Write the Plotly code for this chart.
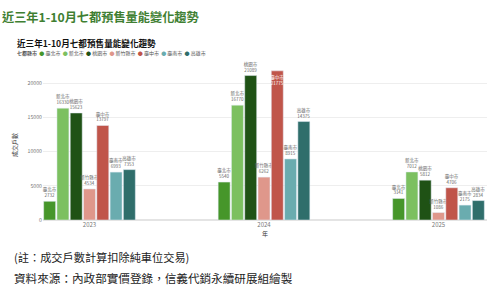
import plotly.graph_objects as go

years = ["2023", "2024", "2025"]
cities = ["臺北市", "新北市", "桃園市", "新竹縣市", "臺中市", "臺南市", "高雄市"]
taipei = [2732, 5540, 3141]
new_taipei = [16330, 16770, 7012]
taoyuan = [15623, 21089, 5812]
hsinchu = [4534, 6262, 1086]
taichung = [13797, 21775, 4706]
tainan = [6993, 8915, 2175]
kaohsiung = [7353, 14375, 2834]
series = [taipei, new_taipei, taoyuan, hsinchu, taichung, tainan, kaohsiung]
colors = ["#46962a", "#7cc060", "#1f5215", "#df978b", "#c0554a", "#6aacaf", "#2f6e6b"]
y_ticks = [0, 5000, 10000, 15000, 20000]

FONT = "Noto Sans CJK TC"
fig = go.Figure()
ymax = 21900
for name, vals, col in zip(cities, series, colors):
    pos = ["inside" if v > 21500 else "outside" for v in vals]
    tcol = ["white" if v > 21500 else "#666666" for v in vals]
    fig.add_trace(go.Bar(
        x=years, y=vals, name=name, marker_color=col,
        text=[f"{name}<br>{v}" for v in vals],
        textposition=pos, insidetextanchor="end", textangle=0, constraintext="none",
        textfont=dict(size=4.5, color=tcol, family=FONT),
        cliponaxis=False, showlegend=False,
    ))

legend_html = "<b>七都縣市</b>  " + "  ".join(
    f"<span style='color:{c}'>●</span> {n}" for n, c in zip(cities, colors))

fig.update_layout(
    width=500, height=295,
    margin=dict(l=43, r=13, t=70, b=75),
    paper_bgcolor="white", plot_bgcolor="white",
    font=dict(family=FONT, color="#555555"),
    barmode="group", bargap=0.467, bargroupgap=0.1,
    uniformtext=dict(minsize=1, mode=False),
    xaxis=dict(type="category", range=[-0.2665, 2.278], showgrid=False,
               tickfont=dict(size=6, color="#777777"), ticks="",
               title=dict(text="年", font=dict(size=6, color="#333333"), standoff=2)),
    yaxis=dict(range=[0, ymax], tickvals=y_ticks, ticktext=[str(t) for t in y_ticks],
               showgrid=True, gridcolor="#eeeeee",
               zeroline=True, zerolinecolor="#e4e4e4",
               tickfont=dict(size=5.2, color="#777777"), ticksuffix=" ",
               title=dict(text="成交戶數", font=dict(size=6, color="#333333"), standoff=9)),
    annotations=[
        dict(text="<b>近三年1-10月七都預售量能變化趨勢</b>", xref="paper", yref="paper",
             x=-43/444, y=1 + (70-17)/150, xanchor="left", yanchor="middle", showarrow=False,
             font=dict(size=12.2, color="#3f7f32", family=FONT)),
        dict(text="<b>近三年1-10月七都預售量能變化趨勢</b>", xref="paper", yref="paper",
             x=(15-43)/444, y=1 + (70-43.5)/150, xanchor="left", yanchor="middle", showarrow=False,
             font=dict(size=8.6, color="#111111", family=FONT)),
        dict(text=legend_html, xref="paper", yref="paper",
             x=(15-43)/444, y=1 + (70-52.7)/150, xanchor="left", yanchor="middle", showarrow=False,
             font=dict(size=5, color="#555555", family=FONT)),
        dict(text="(註：成交戶數計算扣除純車位交易)", xref="paper", yref="paper",
             x=(12-43)/444, y=-(257-220)/150, xanchor="left", yanchor="middle", showarrow=False,
             font=dict(size=11.2, color="#222222", family=FONT)),
        dict(text="資料來源：內政部實價登錄，信義代銷永續研展組繪製", xref="paper", yref="paper",
             x=(12-43)/444, y=-(278-220)/150, xanchor="left", yanchor="middle", showarrow=False,
             font=dict(size=11.6, color="#222222", family=FONT)),
    ],
)
fig.write_html("out.html")
